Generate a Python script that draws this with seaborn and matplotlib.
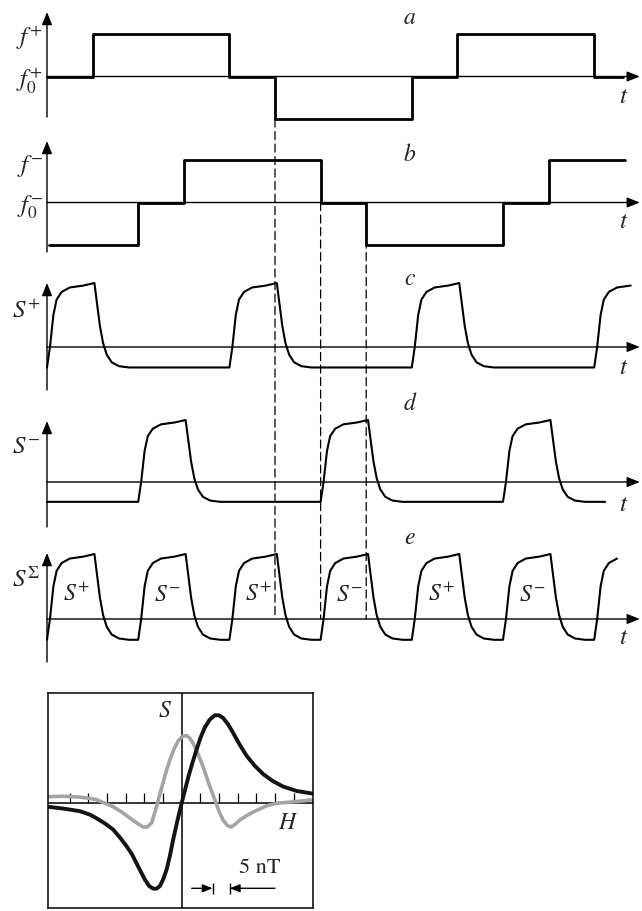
import numpy as np
import pandas as pd
import matplotlib
matplotlib.use("Agg")
import matplotlib.pyplot as plt
import seaborn as sns
from matplotlib.patches import ConnectionPatch

# ------------------------------------------------------------------ data
# (a) f+ modulation: switching times and levels (+1 = f+, 0 = f0+, -1 = low)
a_times = [0, 1, 4, 5, 8, 9, 12, 12.63]
a_levels = [0, 1, 0, -1, 0, 1, 0]
# (b) f- modulation
b_times = [0.04, 2, 3, 6, 7, 10, 11, 12.68]
b_levels = [-1, 0, 1, 0, -1, 0, 1]

# one response pulse (time after onset, signal)
pulse_dt = [0.00, 0.065, 0.14, 0.21, 0.32, 0.50, 0.80, 1.04, 1.09, 1.16, 1.23, 1.31, 1.42, 1.58, 1.80]
pulse_v = [-0.32, 0.00, 0.50, 0.74, 0.86, 0.93, 0.96, 1.00, 0.72, 0.33, 0.06, -0.12, -0.24, -0.30, -0.32]
low_level = -0.32

c_onsets = [0, 4, 8, 12]
c_end = 12.95
d_onsets = [2, 6, 10]
d_start, d_end = 0.0, 12.24
e_onsets = [0, 2, 4, 6, 8, 10, 12]
e_end = 12.57
e_pulse_labels = ["$S^{+}$", "$S^{-}$", "$S^{+}$", "$S^{-}$", "$S^{+}$", "$S^{-}$"]

dashed_times = [5, 6, 7]

panel_letters = ["$a$", "$b$", "$c$", "$d$", "$e$"]
left_labels_a = ["$f^{+}$", "$f_0^{+}$"]
left_labels_b = ["$f^{-}$", "$f_0^{-}$"]
left_labels_s = ["$S^{+}$", "$S^{-}$", "$S^{\\Sigma}$"]

# inset: two recorded signals vs field H (nT)
black_H = [-35.7, -31.7, -27.2, -24.5, -22.8, -20.5, -18.3, -16.5, -14.7, -13.3, -12.1, -10.9,
           -9.8, -8.7, -7.6, -6.7, -5.8, -4.9, -4.0, -3.1, -2.3, -1.2, 0.0, 0.9, 1.8, 2.9, 4.0,
           5.1, 6.2, 7.5, 8.9, 10.0, 11.1, 12.4, 13.8, 15.5, 17.4, 19.5, 21.9, 24.5, 27.2, 30.8, 35.1]
black_S = [-0.04, -0.06, -0.09, -0.13, -0.17, -0.23, -0.30, -0.39, -0.49, -0.58, -0.68, -0.78,
           -0.87, -0.94, -0.97, -0.97, -0.94, -0.86, -0.75, -0.59, -0.42, -0.21, 0.0, 0.15, 0.30,
           0.46, 0.61, 0.75, 0.86, 0.95, 1.00, 1.00, 0.97, 0.90, 0.80, 0.67, 0.54, 0.43, 0.33,
           0.25, 0.19, 0.14, 0.11]
gray_H = [-35.7, -31.7, -27.2, -24.5, -22.8, -20.5, -18.3, -16.0, -13.8, -11.8, -10.3, -9.2, -8.0,
          -6.8, -5.4, -4.2, -3.1, -2.0, -0.9, 0.2, 1.3, 2.2, 3.1, 4.4, 5.8, 7.3, 8.9, 10.0, 11.1,
          12.2, 13.2, 14.3, 15.6, 17.8, 20.1, 22.7, 25.4, 30.8, 35.1]
gray_S = [0.075, 0.08, 0.07, 0.055, 0.04, 0.0, -0.04, -0.10, -0.17, -0.23, -0.27, -0.27, -0.22,
          -0.05, 0.17, 0.35, 0.50, 0.62, 0.71, 0.76, 0.77, 0.74, 0.68, 0.56, 0.41, 0.22, 0.04,
          -0.09, -0.19, -0.25, -0.27, -0.24, -0.19, -0.13, -0.08, -0.03, 0.0, 0.02, 0.04]
inset_ticks = [-30, -25, -20, -15, -10, -5, 5, 10, 15, 20, 25, 30]
scale_bar = [8.3, 12.9]
scale_text = "5 nT"

# ------------------------------------------------------------------ helpers
W, H = 642, 911
X0_PX, T_PX = 47.0, 45.6          # pixel of t = 0, pixels per time unit


def steps(times, levels):
    xs, ys = [], []
    for i, lv in enumerate(levels):
        xs += [times[i], times[i + 1]]
        ys += [lv, lv]
    return xs, ys


def pulses(onsets, t_end, t_start=None):
    xs, ys = [], []
    if t_start is not None:
        xs.append(t_start)
        ys.append(low_level)
    complete = False
    for k, t0 in enumerate(onsets):
        nxt = onsets[k + 1] if k + 1 < len(onsets) else None
        complete = True
        for dt, v in zip(pulse_dt, pulse_v):
            t = t0 + dt
            if (nxt is not None and t >= nxt) or t > t_end:
                complete = False
                break
            xs.append(t)
            ys.append(v)
    if complete and xs[-1] < t_end:
        xs.append(t_end)
        ys.append(low_level)
    return xs, ys


def fx(px):
    return px / W


def fy(py):
    return 1 - py / H


def panel(base_px, ppu):
    ax = fig.add_axes([0, 0, 1, 1])
    ax.set_xlim(-X0_PX / T_PX, (W - X0_PX) / T_PX)
    ax.set_ylim((base_px - H) / ppu, base_px / ppu)
    ax.axis("off")
    return ax


def axes_arrows(ax, base_px, ppu, top_px, bot_px, t_tip=13.0):
    akw = dict(arrowstyle="-|>,head_length=0.55,head_width=0.22", lw=1.0, color="black",
               shrinkA=0, shrinkB=0, mutation_scale=14)
    ax.annotate("", xy=(t_tip, 0), xytext=(0, 0), arrowprops=akw)
    ax.annotate("", xy=(0, (base_px - top_px) / ppu), xytext=(0, (base_px - bot_px) / ppu),
                arrowprops=akw)


# ------------------------------------------------------------------ figure
sns.set_style("white")
plt.rcParams["mathtext.fontset"] = "stix"
plt.rcParams["font.family"] = ["STIXGeneral", "DejaVu Serif"]

fig = plt.figure(figsize=(W / 100, H / 100), dpi=100)
FS = 17

# panel geometry (baseline pixel, pixels per unit, axis top, axis bottom)
geo = {
    "a": (76.5, 42.5, 12, 117),
    "b": (202.5, 42.5, 141, 252),
    "c": (347, 64, 283, 390),
    "d": (482, 62, 421, 527),
    "e": (619, 65, 553, 662),
}
axs = {k: panel(g[0], g[1]) for k, g in geo.items()}
for k, g in geo.items():
    axes_arrows(axs[k], g[0], g[1], g[2], g[3])

wave_kw = dict(color="black", linewidth=2.0, sort=False, estimator=None, legend=False)
sig_kw = dict(color="black", linewidth=1.5, sort=False, estimator=None, legend=False)

xa, ya = steps(a_times, a_levels)
sns.lineplot(x=xa, y=ya, ax=axs["a"], **wave_kw)
xb, yb = steps(b_times, b_levels)
sns.lineplot(x=xb, y=yb, ax=axs["b"], **wave_kw)
xc, yc = pulses(c_onsets, c_end)
sns.lineplot(x=xc, y=yc, ax=axs["c"], **sig_kw)
xd, yd = pulses(d_onsets, d_end, t_start=d_start)
sns.lineplot(x=xd, y=yd, ax=axs["d"], **sig_kw)
xe, ye = pulses(e_onsets, e_end)
sns.lineplot(x=xe, y=ye, ax=axs["e"], **sig_kw)

# dashed guide lines
for t in dashed_times:
    if t == dashed_times[0]:
        start = (t, min(a_levels)), axs["a"]
    else:
        start = (t, 0), axs["b"]
    con = ConnectionPatch(xyA=start[0], coordsA=start[1].transData,
                          xyB=(t, 0), coordsB=axs["e"].transData,
                          color="black", lw=0.9, linestyle=(0, (6.5, 3.5)))
    fig.add_artist(con)

# pulse labels in (e)
for k, lab in enumerate(e_pulse_labels):
    axs["e"].text(e_onsets[k] + 0.64, 0.37, lab, fontsize=FS, ha="center", va="center")

# letters and t labels
letter_y = [18, 155, 279, 404, 538]
t_y = [97, 222, 368, 505, 638]
for lab, ly, ty in zip(panel_letters, letter_y, t_y):
    fig.text(fx(410), fy(ly), lab, fontsize=FS, ha="center", va="center")
    fig.text(fx(624), fy(ty), "$t$", fontsize=FS + 1, ha="center", va="center")

# left axis labels
for lab, ly in zip(left_labels_a, [38, 81]):
    fig.text(fx(43), fy(ly), lab, fontsize=FS + 1, ha="right", va="center")
for lab, ly in zip(left_labels_b, [166, 207]):
    fig.text(fx(43), fy(ly), lab, fontsize=FS + 1, ha="right", va="center")
for lab, ly in zip(left_labels_s, [312, 447, 580]):
    fig.text(fx(40), fy(ly), lab, fontsize=FS + 1, ha="right", va="center")

# ------------------------------------------------------------------ inset
box = (48.3, 693.3, 312.7, 908.0)      # left, top, right, bottom pixels
ax_in = fig.add_axes([fx(box[0]), fy(box[3]), (box[2] - box[0]) / W, (box[3] - box[1]) / H])
ax_in.set_xlim(-35.7, 35.1)
ax_in.set_ylim(-1.19, 1.25)
ax_in.set_xticks([])
ax_in.set_yticks([])
for sp in ax_in.spines.values():
    sp.set_visible(True)
    sp.set_color("black")
    sp.set_linewidth(1.1)
ax_in.axhline(0, color="black", lw=1.1)
ax_in.axvline(0, color="black", lw=1.1)
ax_in.vlines(inset_ticks, 0, 0.12, color="black", lw=0.9)

sns.lineplot(x=gray_H, y=gray_S, ax=ax_in, color="#a4a4a4", linewidth=2.6,
             sort=False, estimator=None, legend=False)
sns.lineplot(x=black_H, y=black_S, ax=ax_in, color="#141414", linewidth=2.8,
             sort=False, estimator=None, legend=False)

ax_in.text(-4.5, 1.04, "$S$", fontsize=FS, ha="center", va="center")
ax_in.text(28.6, -0.23, "$H$", fontsize=FS, ha="center", va="center")
ax_in.text(20.8, -0.735, scale_text, fontsize=FS - 1, ha="center", va="center")

bar_y = -0.966
skw = dict(arrowstyle="-|>,head_length=0.5,head_width=0.2", lw=1.0, color="black",
           shrinkA=0, shrinkB=0, mutation_scale=12)
ax_in.annotate("", xy=(scale_bar[0], bar_y), xytext=(2.7, bar_y), arrowprops=skw)
ax_in.annotate("", xy=(scale_bar[1], bar_y), xytext=(25.0, bar_y), arrowprops=skw)
ax_in.vlines(scale_bar, bar_y - 0.06, bar_y + 0.06, color="black", lw=1.0)

fig.savefig("out.png", dpi=100)
